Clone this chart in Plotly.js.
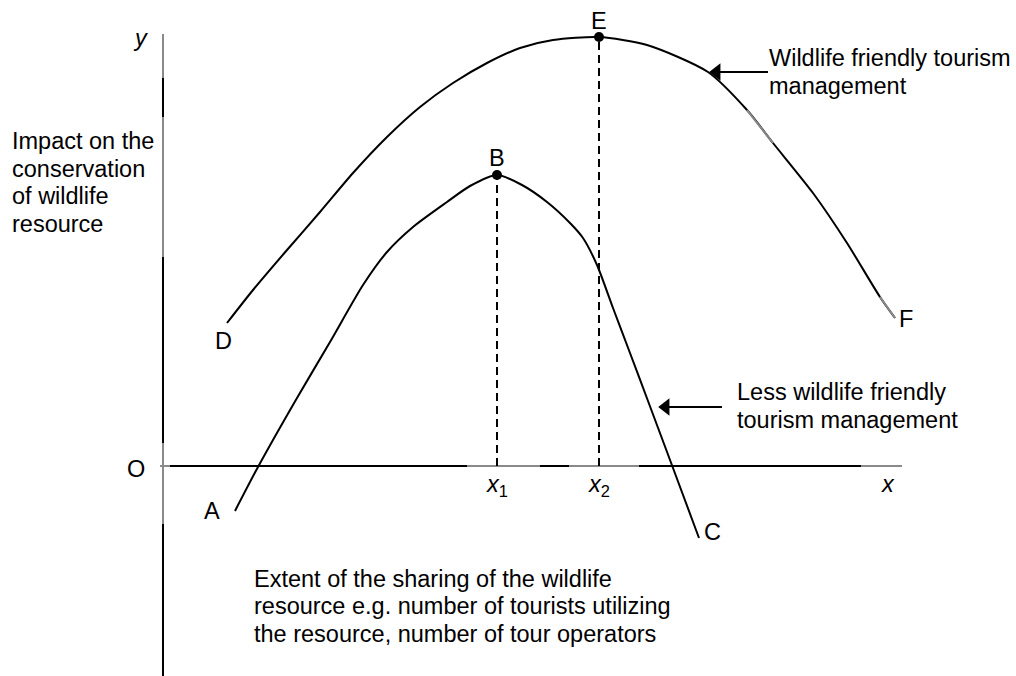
<!DOCTYPE html>
<html>
<head>
<meta charset="utf-8">
<script src="https://cdn.plot.ly/plotly-3.0.1.min.js"></script>
<style>html,body{margin:0;padding:0;background:#fff;}#chart{width:1016px;height:676px;}</style>
</head>
<body>
<div id="chart"></div>
<script>
// Conceptual curves (origin O at the axes crossing)
const upperX = [64,90,124,157,190,224,257,290,324,357,390,436,484,545,584,610,650,684,717,732];
const upperY = [143,176,216,254,293,329,359,383,403,418,426,429,421,394,356,323,273,223,169,148];
const lowerX = [72,95,134,167,200,224,250,284,307,334,359,384,407,420,434,450,467,485,510,536];
const lowerY = [-45,-1,68,124,181,214,239,264,280,291,281,264,243,228,201,158,113,65,-2,-72];
const peakX = [334,436];
const peakY = [291,429];
const peakLabels = ['B','E'];
const endLabels = ['A','C','D','F','O'];
const xTickLabels = ['<i>x</i><sub>1</sub>','<i>x</i><sub>2</sub>'];
const yLabelLines = ['Impact on the','conservation','of wildlife','resource'];
const xLabelLines = ['Extent of the sharing of the wildlife','resource e.g. number of tourists utilizing','the resource, number of tour operators'];
const upperName = ['Wildlife friendly tourism','management'];
const lowerName = ['Less wildlife friendly','tourism management'];

const FONT = 'Liberation Sans, Arial, sans-serif';
const fs = 23.5;
const black = '#000000';
const gray = '#8a8a8a';

const traces = [];
// curves
traces.push({x: upperX, y: upperY, mode:'lines', line:{color:black, width:2, shape:'spline', smoothing:0.7}, hoverinfo:'skip'});
traces.push({x: lowerX, y: lowerY, mode:'lines', line:{color:black, width:2, shape:'spline', smoothing:0.7}, hoverinfo:'skip'});
// faded (gray) stretches on the upper curve
function pick(lo,hi){const xs=[],ys=[];upperX.forEach((v,i)=>{if(v>=lo&&v<=hi){xs.push(v);ys.push(upperY[i]);}});return [xs,ys];}
[[584,610],[717,732]].forEach(r=>{const p=pick(r[0],r[1]);traces.push({x:p[0],y:p[1],mode:'lines',line:{color:gray,width:2},hoverinfo:'skip'});});
// dashed drop lines
traces.push({x: [peakX[0], peakX[0], null, peakX[1], peakX[1]], y: [0, peakY[0], null, 0, peakY[1]], mode:'lines', line:{color:black, width:2, dash:'8px,5px'}, connectgaps:false, hoverinfo:'skip'});
// peak markers
traces.push({x: peakX, y: peakY, mode:'markers', marker:{color:black, size:10}, hoverinfo:'skip'});
// pointer arrows (tip on curve, tail at label)
const arrowTipX = [545,494];
const arrowTipY = [394,59];
const arrowTailX = [605,559];
arrowTipX.forEach((tx,i)=>{
  traces.push({x:[tx+8,arrowTailX[i]], y:[arrowTipY[i],arrowTipY[i]], mode:'lines', line:{color:black,width:2}, hoverinfo:'skip'});
  traces.push({x:[tx+8.7], y:[arrowTipY[i]], mode:'markers', marker:{symbol:'triangle-left', size:15, color:black, line:{width:0}}, hoverinfo:'skip'});
});

// axes as shapes (with faded segments)
function seg(x0,y0,x1,y1,c){return {type:'line', xref:'x', yref:'y', x0:x0,y0:y0,x1:x1,y1:y1, line:{color:c,width:2}, layer:'below'};}
const shapes = [
  seg(0,432,0,388,gray), seg(0,388,0,349,black), seg(0,349,0,209,gray), seg(0,209,0,23,black), seg(0,23,0,-58,gray), seg(0,-58,0,-212,black),
  seg(-3,0,7,0,gray), seg(7,0,304,0,black), seg(304,0,377,0,gray), seg(377,0,406,0,black), seg(406,0,476,0,gray), seg(476,0,698,0,black), seg(698,0,739,0,gray)
];

function txt(x,y,t,opts){
  return Object.assign({x:x,y:y,xref:'x',yref:'y',text:t,showarrow:false,xanchor:'left',yanchor:'middle',font:{family:FONT,size:fs,color:black}}, opts||{});
}
const ann = [];
const yl = [325,297,270,242];
yLabelLines.forEach((t,i)=>ann.push(txt(-153, yl[i], t)));
const xl = [-113,-140,-168];
xLabelLines.forEach((t,i)=>ann.push(txt(89, xl[i], t)));
ann.push(txt(604,408,upperName[0]));
ann.push(txt(604,380,upperName[1]));
ann.push(txt(572,74,lowerName[0]));
ann.push(txt(572,46.5,lowerName[1]));
ann.push(txt(-23,428,'<i>y</i>',{xanchor:'center'}));
ann.push(txt(725,-18,'<i>x</i>',{xanchor:'center'}));
ann.push(txt(peakX[0],-19,xTickLabels[0],{xanchor:'center'}));
ann.push(txt(peakX[1],-19,xTickLabels[1],{xanchor:'center'}));
ann.push(txt(peakX[0],308,peakLabels[0],{xanchor:'center'}));
ann.push(txt(peakX[1],445,peakLabels[1],{xanchor:'center'}));
const endPos = {A:[49,-45], C:[549,-66], D:[60,125], F:[743,147], O:[-27,-3]};
endLabels.forEach(l=>ann.push(txt(endPos[l][0], endPos[l][1], l, {xanchor:'center'})));

const layout = {
  width:1016, height:676,
  margin:{l:0,r:0,t:0,b:0},
  paper_bgcolor:'#ffffff', plot_bgcolor:'#ffffff',
  showlegend:false,
  xaxis:{range:[-163,853], visible:false, fixedrange:true},
  yaxis:{range:[-210,466], visible:false, fixedrange:true},
  shapes:shapes,
  annotations:ann
};
Plotly.newPlot('chart', traces, layout, {staticPlot:true, displayModeBar:false});
</script>
</body>
</html>
